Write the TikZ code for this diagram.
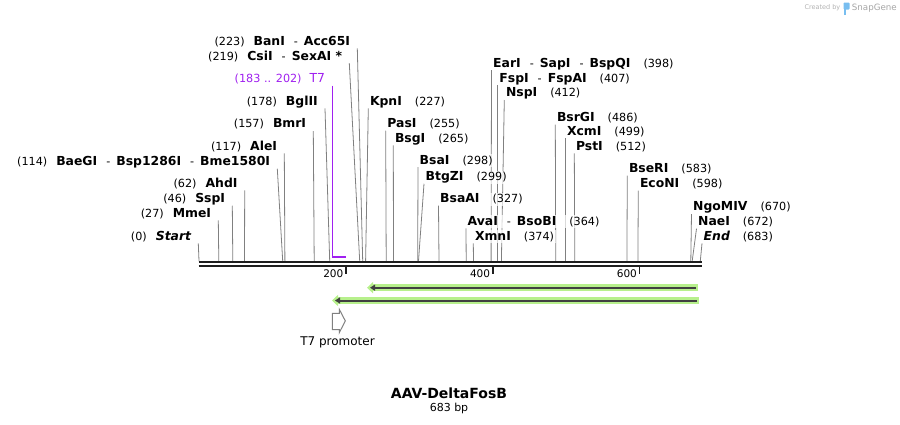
\documentclass[tikz,border=0pt]{standalone}
\usepackage{fontspec}
\setmainfont{DejaVu Sans}
\usetikzlibrary{arrows.meta}

\definecolor{sitegray}{RGB}{128,128,128}
\definecolor{t7purple}{RGB}{160,32,240}
\definecolor{glowgreen}{RGB}{183,240,140}
\definecolor{featgray}{RGB}{64,64,64}
\definecolor{bbblack}{RGB}{30,30,30}
\definecolor{logoblue}{RGB}{120,190,240}

\newcommand{\enz}[1]{{\fontsize{12.4}{14}\selectfont\bfseries #1}}
\newcommand{\bpnum}[1]{{\fontsize{11.2}{13}\selectfont(#1)}}
\newcommand{\dsh}{\hspace{9pt}-\hspace{6pt}}

\pgfdeclarelayer{background}
\pgfsetlayers{background,main}

\tikzset{
    lbl/.style={inner ysep=0pt, text height=10pt, text depth=3pt, font=\fontsize{11.2}{13}\selectfont,
        fill=white, fill opacity=0.7, text opacity=1},
    lbl left/.style={lbl, anchor=east, inner xsep=7pt},
    lbl right/.style={lbl, anchor=west, inner xsep=1.5pt},
    backbone/.style={draw=bbblack, line width=1.8pt},
    glow/.style={draw=glowgreen, line width=7pt, shorten <=-2.3pt, shorten >=-3pt, -{Triangle[length=6pt,width=11pt]}},
    feat/.style={draw=featgray, line width=2pt, -{Triangle[length=5pt,width=6pt]}},
}

\begin{document}
\begin{tikzpicture}[x=1pt,y=-1pt]
    \useasboundingbox (0,0) rectangle (900,424);

    % cut positions on the backbone
    \coordinate (b0) at (199.0,261);
    \coordinate (b27) at (218.8,261);
    \coordinate (b46) at (232.8,261);
    \coordinate (b62) at (244.5,261);
    \coordinate (b114) at (282.7,261);
    \coordinate (b117) at (284.9,261);
    \coordinate (b157) at (314.2,261);
    \coordinate (b178) at (329.7,261);
    \coordinate (b219) at (359.7,261);
    \coordinate (b223) at (362.7,261);
    \coordinate (b227) at (365.6,261);
    \coordinate (b255) at (386.2,261);
    \coordinate (b265) at (393.5,261);
    \coordinate (b298) at (417.7,261);
    \coordinate (b299) at (418.5,261);
    \coordinate (b327) at (439.0,261);
    \coordinate (b364) at (466.2,261);
    \coordinate (b374) at (473.5,261);
    \coordinate (b398) at (491.1,261);
    \coordinate (b407) at (497.7,261);
    \coordinate (b412) at (501.4,261);
    \coordinate (b486) at (555.7,261);
    \coordinate (b499) at (565.3,261);
    \coordinate (b512) at (574.8,261);
    \coordinate (b583) at (626.9,261);
    \coordinate (b598) at (637.9,261);
    \coordinate (b670) at (690.8,261);
    \coordinate (b672) at (692.2,261);
    \coordinate (b683) at (700.3,261);

    % backbone and ruler
    \draw[backbone] (198.5,262.3) -- (701.5,262.3);
    \draw[backbone] (198.5,266) -- (701.5,266);
    \draw[bbblack, line width=1.8pt] (345.8,266) -- (345.8,274);
    \draw[bbblack, line width=1.8pt] (492.6,266) -- (492.6,274);
    \draw[bbblack, line width=1.8pt] (639.4,266) -- (639.4,274);
    \node[anchor=east, inner sep=0pt, font=\fontsize{10.5}{12}\selectfont] at (343.5,274) {200};
    \node[anchor=east, inner sep=0pt, font=\fontsize{10.5}{12}\selectfont] at (490.3,274) {400};
    \node[anchor=east, inner sep=0pt, font=\fontsize{10.5}{12}\selectfont] at (637.1,274) {600};

    \begin{scope}[every node/.style={lbl left}]
        \node (223) at (357.3,41.7) {\bpnum{223}\hspace{9pt}\enz{BanI}\dsh\enz{Acc65I}};
        \node (219) at (349.3,56.5) {\bpnum{219}\hspace{9pt}\enz{CsiI}\dsh\enz{SexAI *}};
        \node (178) at (325,101.7) {\bpnum{178}\hspace{9pt}\enz{BglII}};
        \node (157) at (313.3,124.3) {\bpnum{157}\hspace{9pt}\enz{BmrI}};
        \node (117) at (284.3,146.7) {\bpnum{117}\hspace{9pt}\enz{AleI}};
        \node (114) at (277.3,162) {\bpnum{114}\hspace{9pt}\enz{BaeGI}\dsh\enz{Bsp1286I}\dsh\enz{Bme1580I}};
        \node (62) at (244.7,183.7) {\bpnum{62}\hspace{9pt}\enz{AhdI}};
        \node (46) at (232.3,199) {\bpnum{46}\hspace{9pt}\enz{SspI}};
        \node (27) at (218.3,213.7) {\bpnum{27}\hspace{9pt}\enz{MmeI}};
        \node (0) at (198.3,236.7) {\bpnum{0}\hspace{9pt}\enz{\itshape Start}};
        \node[text=t7purple] (t7) at (332.3,79) {\bpnum{183 .. 202}\hspace{8pt}{\fontsize{12.4}{14}\selectfont T7}};
    \end{scope}

    \begin{scope}[every node/.style={lbl right}]
        \node (227) at (368.3,101.7) {\enz{KpnI}\hspace{13pt}\bpnum{227}};
        \node (255) at (385.7,124) {\enz{PasI}\hspace{13pt}\bpnum{255}};
        \node (265) at (393.3,138.7) {\enz{BsgI}\hspace{13pt}\bpnum{265}};
        \node (298) at (418,160.5) {\enz{BsaI}\hspace{13pt}\bpnum{298}};
        \node (299) at (424,177) {\enz{BtgZI}\hspace{13pt}\bpnum{299}};
        \node (327) at (438.5,199) {\enz{BsaAI}\hspace{13pt}\bpnum{327}};
        \node (364) at (466,221.7) {\enz{AvaI}\dsh\enz{BsoBI}\hspace{13pt}\bpnum{364}};
        \node (374) at (473.3,236.7) {\enz{XmnI}\hspace{13pt}\bpnum{374}};
        \node (398) at (491.5,63.5) {\enz{EarI}\dsh\enz{SapI}\dsh\enz{BspQI}\hspace{13pt}\bpnum{398}};
        \node (407) at (497.7,78.7) {\enz{FspI}\dsh\enz{FspAI}\hspace{13pt}\bpnum{407}};
        \node (412) at (504.3,93.3) {\enz{NspI}\hspace{13pt}\bpnum{412}};
        \node (486) at (555.3,118) {\enz{BsrGI}\hspace{13pt}\bpnum{486}};
        \node (499) at (565.3,131.7) {\enz{XcmI}\hspace{13pt}\bpnum{499}};
        \node (512) at (574.3,146.7) {\enz{PstI}\hspace{13pt}\bpnum{512}};
        \node (583) at (627.3,169) {\enz{BseRI}\hspace{13pt}\bpnum{583}};
        \node (598) at (638.3,184) {\enz{EcoNI}\hspace{13pt}\bpnum{598}};
        \node (670) at (691.5,207.3) {\enz{NgoMIV}\hspace{13pt}\bpnum{670}};
        \node (672) at (696.5,222) {\enz{NaeI}\hspace{13pt}\bpnum{672}};
        \node (683) at (702,236.7) {\enz{\itshape End}\hspace{13pt}\bpnum{683}};
    \end{scope}

    \begin{pgfonlayer}{background}
    \begin{scope}[every edge/.style={draw=sitegray, line width=0.8pt}]
        \path (223.south east) edge (b223);
        \path (219.south east) edge (b219);
        \path (178.south east) edge (b178);
        \path (157.south east) edge (b157);
        \path (117.south east) edge (b117);
        \path (114.south east) edge (b114);
        \path (62.south east) edge (b62);
        \path (46.south east) edge (b46);
        \path (27.south east) edge (b27);
        \path (0.south east) edge (b0);

        \path (227.south west) edge (b227);
        \path (255.south west) edge (b255);
        \path (265.south west) edge (b265);
        \path (298.south west) edge (b298);
        \path (299.south west) edge (b299);
        \path (327.south west) edge (b327);
        \path (364.south west) edge (b364);
        \path (374.south west) edge (b374);
        \path (398.south west) edge (b398);
        \path (407.south west) edge (b407);
        \path (412.south west) edge (b412);
        \path (486.south west) edge (b486);
        \path (499.south west) edge (b499);
        \path (512.south west) edge (b512);
        \path (583.south west) edge (b583);
        \path (598.south west) edge (b598);
        \path (670.south west) edge (b670);
        \path (672.south west) edge (b672);
        \path (683.south west) edge (b683);
    \end{scope}
    \end{pgfonlayer}

    % T7 site
    \coordinate (t7a) at (332.3,257.3);
    \coordinate (t7b) at (345.7,257.3);
    \draw[t7purple, line width=1pt] (t7.south east) -- (t7a);
    \draw[t7purple, line width=2pt] (t7a) -- (t7b);

    % features
    \coordinate (f1r) at (696,287.7);
    \coordinate (f1l) at (370,287.7);
    \coordinate (f2r) at (696.5,300.5);
    \coordinate (f2l) at (335,300.5);
    \draw[glow] (f1r) -- (f1l);
    \draw[feat] (f1r) -- (f1l);
    \draw[glow] (f2r) -- (f2l);
    \draw[feat] (f2r) -- (f2l);

    \draw[sitegray, line width=1pt, fill=white] (332.3,313.3) -- (339.3,313.3) -- (339.3,309.3)
        -- (345.3,320.9) -- (339.3,332.7) -- (339.3,329.7) -- (332.3,329.7) -- cycle;
    \node[font=\fontsize{12}{14}\selectfont] (t7p) at (337.5,342.5) {T7 promoter};

    % title
    \node[font=\fontsize{14}{16}\selectfont\bfseries] (title) at (449,393) {AAV-DeltaFosB};
    \node[font=\fontsize{11}{13}\selectfont] (len) at (449,408.5) {683 bp};

    % watermark
    \node[anchor=east, inner sep=0pt, text=black!35, font=\fontsize{8.7}{10}\selectfont] (sg) at (897,8) {SnapGene};
    \fill[logoblue, rounded corners=0.8pt] (843.5,2.5) rectangle (849.5,9.5);
    \fill[logoblue] (843.5,8) rectangle (846,14.5);
    \node[anchor=east, inner sep=0pt, text=black!30, font=\fontsize{6.5}{8}\selectfont] (cb) at (840.5,8) {Created by};
\end{tikzpicture}
\end{document}
